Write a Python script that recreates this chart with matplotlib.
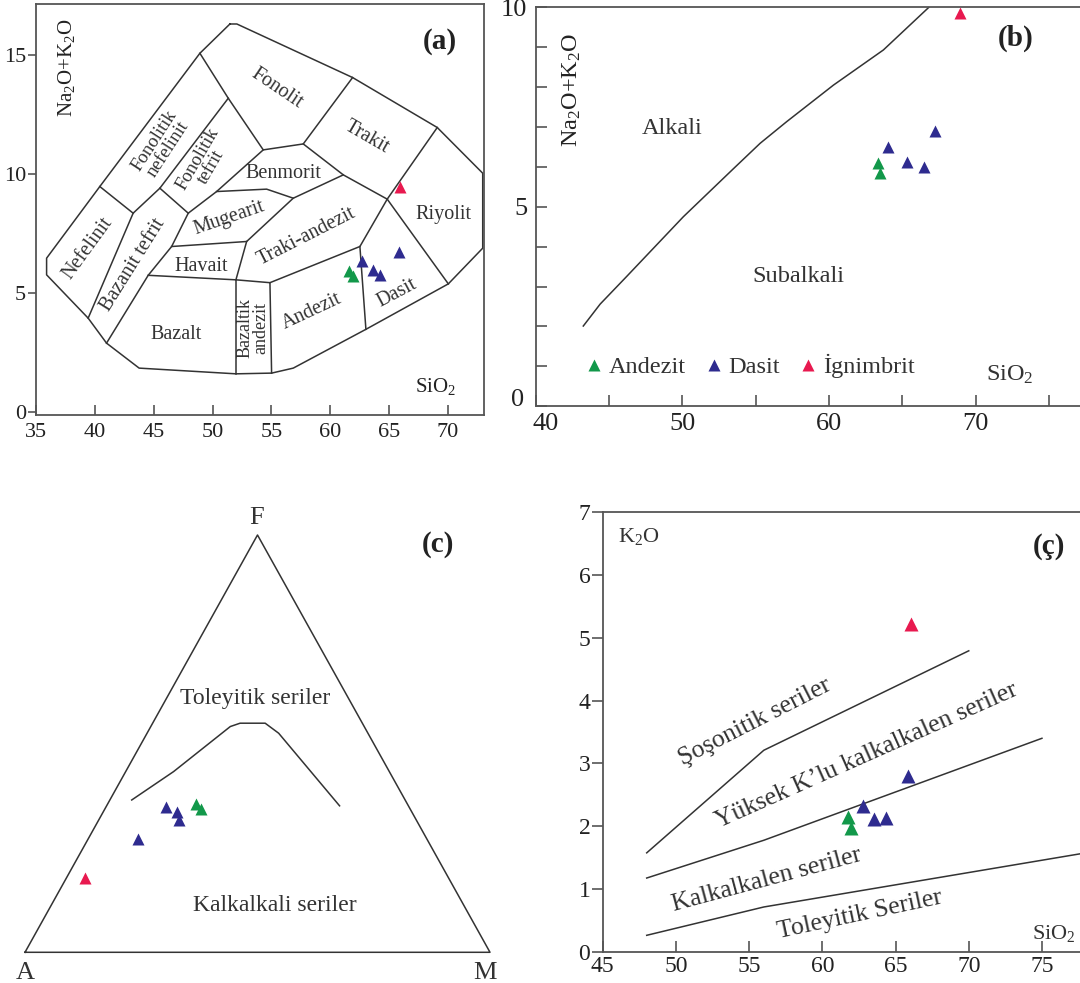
import numpy as np
import matplotlib.pyplot as plt
from matplotlib.transforms import ScaledTranslation

plt.rcParams['font.family'] = ['Liberation Serif', 'DejaVu Serif']
plt.rcParams['mathtext.fontset'] = 'custom'
plt.rcParams['mathtext.rm'] = 'Liberation Serif'
plt.rcParams['mathtext.it'] = 'Liberation Serif:italic'

GREEN = '#12984a'
BLUE = '#2e2b8f'
RED = '#e8194f'
LINE = '#333333'
SPINE = '#555555'

# ---- (a) TAS diagram (Cox et al.) ----
tas_outer = [(51.47, 16.30), (52.06, 16.30), (61.89, 14.05), (69.08, 11.95), (72.94, 10.03),
             (72.94, 6.88), (70.02, 5.38), (63.02, 3.47), (56.85, 1.84), (55.01, 1.63),
             (51.98, 1.60), (43.76, 1.84), (40.99, 2.89), (39.43, 3.94), (35.90, 5.76),
             (35.90, 6.46), (40.42, 9.47), (48.92, 15.07), (51.47, 16.30)]
tas_lines = [
    [(40.42, 9.47), (43.25, 8.35)],
    [(39.43, 3.94), (43.25, 8.35), (45.52, 9.40), (51.33, 13.18)],
    [(45.52, 9.40), (47.93, 8.35)],
    [(40.99, 2.89), (44.53, 5.74), (46.52, 6.95), (47.93, 8.35), (50.34, 9.26), (54.30, 11.01)],
    [(48.92, 15.07), (51.33, 13.18), (54.30, 11.01), (57.70, 11.26), (61.89, 14.05)],
    [(57.70, 11.26), (61.10, 9.96), (64.83, 8.94), (69.08, 11.95)],
    [(64.83, 8.94), (70.02, 5.38)],
    [(50.34, 9.26), (54.59, 9.36), (56.85, 8.98), (61.10, 9.96)],
    [(46.52, 6.95), (52.89, 7.16), (56.85, 8.98)],
    [(44.53, 5.74), (51.98, 5.55), (52.89, 7.16)],
    [(51.98, 5.55), (51.98, 1.60)],
    [(51.98, 5.55), (54.87, 5.43), (55.01, 1.63)],
    [(54.87, 5.43), (62.51, 6.95), (64.83, 8.94)],
    [(62.51, 6.95), (63.02, 3.47)],
]
# text, x, y, rotation, size
tas_labels = [
    ('Fonolit', 55.46, 13.61, -34, 14.5), ('Trakit', 63.11, 11.55, -30, 14.5),
    ('Fonolitik\nnefelinit', 45.65, 11.2, 57, 13.5), ('Fonolitik\ntefrit', 49.3, 10.45, 60, 13.5),
    ('Benmorit', 55.97, 10.0, 0, 14.5), ('Mugearit', 51.38, 8.15, 19, 14.5),
    ('Riyolit', 69.57, 8.28, 0, 14.5), ('Nefelinit', 39.41, 6.89, 54, 14.5),
    ('Bazanit tefrit', 43.25, 6.18, 58, 14.5), ('Traki-andezit', 57.99, 7.37, 27, 14.5),
    ('Havait', 49.0, 6.09, 0, 14.5), ('Bazalt', 46.88, 3.24, 0, 14.5),
    ('Bazaltik\nandezit', 53.45, 3.52, 90, 13), ('Andezit', 58.41, 4.21, 25, 14.5),
    ('Dasit', 65.63, 4.99, 28, 14.5),
]
a_andezit_x = [61.6, 61.9]
a_andezit_y = [5.90, 5.69]
a_dasit_x = [62.7, 63.6, 64.2, 65.8]
a_dasit_y = [6.32, 5.97, 5.76, 6.74]
a_ign_x = [65.9]
a_ign_y = [9.47]

# ---- (b) alkali / subalkali ----
ib_x = [43.25, 44.4, 46.2, 50.07, 53.5, 55.3, 57.1, 60.3, 63.7, 66.8]
ib_y = [2.01, 2.56, 3.25, 4.75, 5.96, 6.59, 7.13, 8.05, 8.93, 10.0]
b_andezit_x = [63.3, 63.5]
b_andezit_y = [6.09, 5.84]
b_dasit_x = [64.0, 67.2, 65.3, 66.5]
b_dasit_y = [6.50, 6.90, 6.13, 6.00]
b_ign_x = [68.9]
b_ign_y = [9.86]

# ---- (c) AFM ternary (A, F, M in %) ----
afm_curve_A = [58.8, 46.4, 28.8, 26.3, 20.9, 19.2, 14.8]
afm_curve_F = [36.5, 43.3, 54.1, 54.9, 54.9, 52.5, 35.1]
afm_curve_M = [4.7, 10.3, 17.1, 18.8, 24.2, 28.3, 50.1]
c_andezit_AFM = [(45.4, 35.5, 19.1), (45.0, 34.3, 20.7)]
c_dasit_AFM = [(62.2, 27.1, 10.7), (52.3, 34.9, 12.8), (50.5, 33.7, 15.8), (51.0, 31.7, 17.3)]
c_ign_AFM = [(78.3, 17.7, 4.0)]

# ---- (ç) K2O vs SiO2 ----
sho_x = [48, 56, 70]
sho_y = [1.58, 3.21, 4.79]
hk_x = [48, 56, 75]
hk_y = [1.18, 1.78, 3.40]
lk_x = [48, 56, 78]
lk_y = [0.27, 0.72, 1.58]
d_andezit_x = [61.78, 61.96]
d_andezit_y = [2.15, 1.97]
d_dasit_x = [65.84, 62.8, 63.56, 64.36]
d_dasit_y = [2.80, 2.32, 2.11, 2.13]
d_ign_x = [66.05]
d_ign_y = [5.21]

NAK = r'Na$_\mathregular{2}$O+K$_\mathregular{2}$O'
SIO2 = r'SiO$_\mathregular{2}$'


def ternary(afm):
    a, f, m = np.array(afm, dtype=float).T
    tot = a + f + m
    f = f / tot
    m = m / tot
    return m + f / 2, f


def style_axes(ax, size):
    for s in ax.spines.values():
        s.set_color(SPINE)
        s.set_linewidth(1.3)
    ax.tick_params(colors=SPINE, labelcolor='#222222', labelsize=size, width=1.2)


fig = plt.figure(figsize=(10.8, 9.83), dpi=100)

# (a)
ax = fig.add_axes([36 / 1080, 1 - 415 / 983, 448 / 1080, 411 / 983])
ox, oy = zip(*tas_outer)
ax.plot(ox, oy, color=LINE, lw=1.1)
for seg in tas_lines:
    sx, sy = zip(*seg)
    ax.plot(sx, sy, color=LINE, lw=1.1)
for txt, x, y, r, fs in tas_labels:
    ax.text(x, y, txt, rotation=r, ha='center', va='center', fontsize=fs,
            color='#333333', linespacing=0.9, rotation_mode='anchor')
ms = 8
ax.plot(a_andezit_x, a_andezit_y, '^', color=GREEN, ms=ms, mec='none')
ax.plot(a_dasit_x, a_dasit_y, '^', color=BLUE, ms=ms, mec='none')
ax.plot(a_ign_x, a_ign_y, '^', color=RED, ms=ms, mec='none')
ax.text(69.3, 15.55, '(a)', fontsize=21, fontweight='bold', ha='center', va='center', color='#222222')
ax.text(37.6, 14.45, NAK, rotation=90, fontsize=15, ha='center', va='center', color='#222222')
ax.text(68.9, 1.06, SIO2, fontsize=15, ha='center', va='center', color='#222222')
ax.set_xlim(35, 73.05)
ax.set_ylim(-0.13, 17.14)
ax.set_xticks(np.arange(35, 71, 5))
ax.set_yticks([0, 5, 10, 15])
style_axes(ax, 16)
ax.tick_params(axis='x', direction='in', length=7, pad=6)
ax.tick_params(axis='y', direction='out', length=6, pad=1)

# (b)
ax = fig.add_axes([535.6 / 1080, 1 - 406.2 / 983, 544.4 / 1080, 398.9 / 983])
ax.plot(ib_x, ib_y, color=LINE, lw=1.1)
ms = 9
ha = ax.plot(b_andezit_x, b_andezit_y, '^', color=GREEN, ms=ms, mec='none')[0]
hd = ax.plot(b_dasit_x, b_dasit_y, '^', color=BLUE, ms=ms, mec='none')[0]
hi = ax.plot(b_ign_x, b_ign_y, '^', color=RED, ms=ms, mec='none', clip_on=False)[0]
ax.text(72.68, 9.22, '(b)', fontsize=21, fontweight='bold', ha='center', va='center', color='#222222')
ax.text(42.46, 7.92, NAK, rotation=90, fontsize=17.5, ha='center', va='center', color='#222222')
ax.text(49.28, 6.96, 'Alkali', fontsize=17.5, ha='center', va='center', color='#333333')
ax.text(57.91, 3.25, 'Subalkali', fontsize=17.5, ha='center', va='center', color='#333333')
ax.text(72.34, 0.78, SIO2, fontsize=17.5, ha='center', va='center', color='#333333')
ax.legend([ha, hd, hi], ['Andezit', 'Dasit', 'İgnimbrit'], loc='center left',
          bbox_to_anchor=(0.07, 0.10), ncol=3, frameon=False, fontsize=17.5,
          handlelength=0.7, handletextpad=0.25, columnspacing=0.8, borderpad=0,
          labelcolor='#333333')
ax.set_xlim(40, 77.1)
ax.set_ylim(0, 10)
ax.set_xticks(np.arange(40, 76, 5))
ax.set_xticklabels(['40', '', '50', '', '60', '', '70', ''])
ax.set_yticks(np.arange(0, 11, 1))
ax.set_yticklabels(['0', '', '', '', '', '5', '', '', '', '', '10'])
style_axes(ax, 19)
ax.spines['right'].set_visible(False)
ax.tick_params(axis='both', direction='in', length=8)
ax.tick_params(axis='x', pad=5)
ax.tick_params(axis='y', pad=6)
# nudge the corner labels apart like the original
ax.get_xticklabels()[0].set_transform(
    ax.get_xticklabels()[0].get_transform() + ScaledTranslation(7 / 72, 0, fig.dpi_scale_trans))
ax.get_yticklabels()[0].set_transform(
    ax.get_yticklabels()[0].get_transform() + ScaledTranslation(-2 / 72, 6 / 72, fig.dpi_scale_trans))

# (c)
ax = fig.add_axes([0, 0, 520 / 1080, 483 / 983])
ax.axis('off')
ax.set_xlim(-25 / 465, 495 / 465)
ax.set_ylim(-30.7 / 417.3, 452.3 / 417.3)
tri_x, tri_y = ternary([(100, 0, 0), (0, 0, 100), (0, 100, 0), (100, 0, 0)])
ax.plot(tri_x, tri_y, color=LINE, lw=1.1)
cx, cy = ternary(list(zip(afm_curve_A, afm_curve_F, afm_curve_M)))
ax.plot(cx, cy, color=LINE, lw=1.1)
ms = 9
for pts, col in [(c_andezit_AFM, GREEN), (c_dasit_AFM, BLUE), (c_ign_AFM, RED)]:
    px, py = ternary(pts)
    ax.plot(px, py, '^', color=col, ms=ms, mec='none')
ax.text(0.499, 1.04, 'F', fontsize=19, ha='center', va='center', color='#333333')
ax.text(0.0, -0.05, 'A', fontsize=19, ha='center', va='center', color='#333333')
ax.text(0.99, -0.05, 'M', fontsize=19, ha='center', va='center', color='#333333')
ax.text(0.888, 0.977, '(c)', fontsize=21, fontweight='bold', ha='center', va='center', color='#222222')
ax.text(0.495, 0.609, 'Toleyitik seriler', fontsize=17, ha='center', va='center', color='#333333')
ax.text(0.538, 0.113, 'Kalkalkali seriler', fontsize=17, ha='center', va='center', color='#333333')

# (ç)
ax = fig.add_axes([602.8 / 1080, 1 - 952.3 / 983, 477.2 / 1080, 440.6 / 983])
for lx, ly in [(sho_x, sho_y), (hk_x, hk_y), (lk_x, lk_y)]:
    ax.plot(lx, ly, color=LINE, lw=1.1)
ms = 9.5
ax.plot(d_andezit_x, d_andezit_y, '^', color=GREEN, ms=ms, mec='none')
ax.plot(d_dasit_x, d_dasit_y, '^', color=BLUE, ms=ms, mec='none')
ax.plot(d_ign_x, d_ign_y, '^', color=RED, ms=ms, mec='none')
ax.text(47.43, 6.6, r'K$_\mathregular{2}$O', fontsize=16, ha='center', va='center', color='#333333')
ax.text(75.45, 6.44, '(ç)', fontsize=21, fontweight='bold', ha='center', va='center', color='#222222')
ax.text(75.79, 0.30, SIO2, fontsize=16, ha='center', va='center', color='#333333')
for txt, x, y, r in [('Şoşonitik seriler', 55.4, 3.66, 27),
                     ("Yüksek K’lu kalkalkalen seriler", 63.04, 3.13, 24),
                     ('Kalkalkalen seriler', 56.2, 1.15, 15),
                     ('Toleyitik Seriler', 62.58, 0.59, 12)]:
    ax.text(x, y, txt, rotation=r, fontsize=18.5, ha='center', va='center',
            color='#333333', rotation_mode='anchor')
ax.set_xlim(45, 77.6)
ax.set_ylim(0, 7)
ax.set_xticks(np.arange(45, 76, 5))
ax.set_yticks(np.arange(0, 8, 1))
style_axes(ax, 17)
ax.spines['right'].set_visible(False)
ax.tick_params(axis='x', direction='in', length=8, pad=3)
ax.tick_params(axis='y', direction='out', length=8, pad=1)

fig.savefig('out.png', dpi=100)
